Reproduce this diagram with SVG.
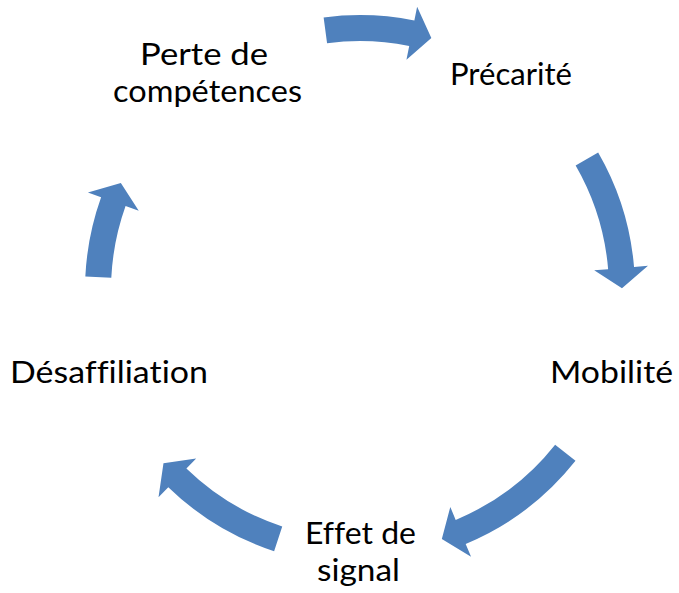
<svg xmlns="http://www.w3.org/2000/svg" width="679" height="593" viewBox="0 0 679 593">
<style>
.arrow{fill:#4F81BD;stroke:none}
.lbl{font-family:Lato,"Open Sans","Liberation Sans",sans-serif;font-size:30px;font-variant-ligatures:none;fill:#000;text-anchor:middle}
</style>
<rect width="679" height="593" fill="#fff"/>
<g id="connectors">
<path class="arrow" d="M323.63 17.41 A275 275 0 0 1 414.36 20.43 L417.12 6.70 L431.34 37.90 L406.45 59.64 L409.22 45.91 A249 249 0 0 0 327.07 43.19 Z"/>
<path class="arrow" d="M598.16 152.5 A275 275 0 0 1 634.04 266.99 L647.99 265.82 L621.99 288.17 L594.18 270.34 L608.13 269.16 A249 249 0 0 0 575.64 165.5 Z"/>
<path class="arrow" d="M575.51 460.82 A275 275 0 0 1 465.68 543.88 L471.06 556.81 L441.83 538.89 L450.31 506.95 L455.69 519.88 A249 249 0 0 0 555.14 444.67 Z"/>
<path class="arrow" d="M274.11 551.24 A275 275 0 0 1 168.28 487.15 L158.52 497.19 L163.47 463.26 L196.17 458.47 L186.41 468.51 A249 249 0 0 0 282.23 526.54 Z"/>
<path class="arrow" d="M85.33 276.57 A275 275 0 0 1 101.10 197.30 L87.92 192.58 L120.84 183.02 L138.75 210.78 L125.57 206.06 A249 249 0 0 0 111.30 277.84 Z"/>
</g>
<g id="node-perte">
<text class="lbl"><tspan x="204" y="65" textLength="128" lengthAdjust="spacingAndGlyphs">Perte de</tspan><tspan x="207.5" y="102" textLength="189" lengthAdjust="spacingAndGlyphs">compétences</tspan></text>
</g>
<g id="node-precarite">
<text class="lbl" x="511" y="85" textLength="122" lengthAdjust="spacingAndGlyphs">Précarité</text>
</g>
<g id="node-mobilite">
<text class="lbl" x="611.5" y="383" textLength="123" lengthAdjust="spacingAndGlyphs">Mobilité</text>
</g>
<g id="node-effet">
<text class="lbl"><tspan x="360.5" y="544" textLength="111" lengthAdjust="spacingAndGlyphs">Effet de</tspan><tspan x="358.5" y="581" textLength="83" lengthAdjust="spacingAndGlyphs">signal</tspan></text>
</g>
<g id="node-desaffiliation">
<text class="lbl" x="109" y="383" textLength="198" lengthAdjust="spacingAndGlyphs">Désaffiliation</text>
</g>
</svg>
